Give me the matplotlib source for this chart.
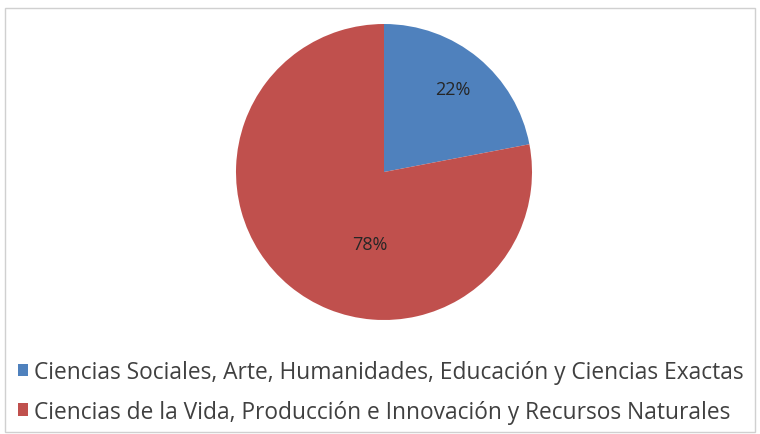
import matplotlib.pyplot as plt
from matplotlib.patches import Rectangle

labels = ['Ciencias Sociales, Arte, Humanidades, Educación y Ciencias Exactas',
          'Ciencias de la Vida, Producción e Innovación y Recursos Naturales']
values = [22, 78]
colors = ['#4F81BD', '#C0504D']

plt.rcParams['font.family'] = ['Open Sans', 'DejaVu Sans']

fig = plt.figure(figsize=(7.6, 4.35), dpi=100)
ax = fig.add_axes([0, 0, 1, 1])

wedges, texts, autotexts = ax.pie(values, colors=colors, startangle=90, counterclock=False,
                                  center=(384, 262), radius=148, autopct='%d%%',
                                  pctdistance=0.73, textprops=dict(fontsize=13, color='#262626'))
# Excel places the big label closer to the centre
autotexts[1].set_position((370, 190))

ax.set_xlim(0, 760)
ax.set_ylim(0, 435)
ax.set_aspect('equal')
ax.axis('off')

# chart border
fig.patches.append(Rectangle((5 / 760, 2 / 435), 750 / 760, 424 / 435, transform=fig.transFigure,
                             fill=False, edgecolor='#d0d0d0', linewidth=1))

leg = fig.legend(wedges, labels, loc='upper left', bbox_to_anchor=(9 / 760, 1 - 352 / 435),
                 frameon=False, fontsize=16.4, handlelength=0.45, handleheight=0.45,
                 handletextpad=0.25, labelspacing=0.68, borderaxespad=0)
for t in leg.get_texts():
    t.set_color('#404040')

fig.savefig('out.png', dpi=100)
